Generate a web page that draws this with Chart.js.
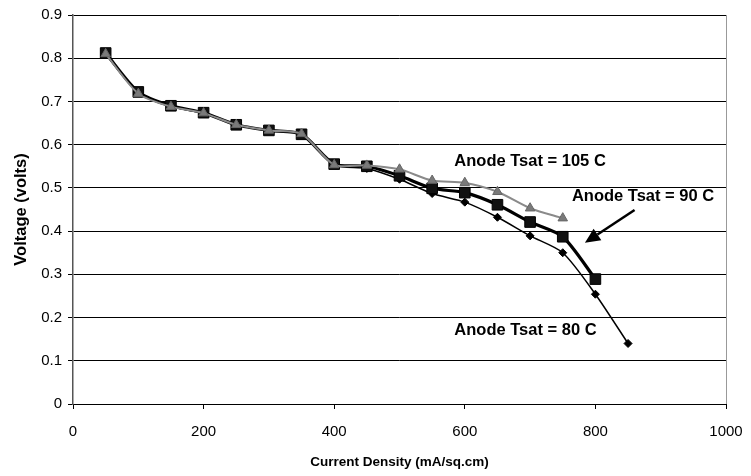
<!DOCTYPE html>
<html>
<head>
<meta charset="utf-8">
<script src="https://cdn.jsdelivr.net/npm/chart.js@4/dist/chart.umd.min.js"></script>
<style>
  html, body { margin: 0; padding: 0; background: #fff; }
  #wrap { width: 751px; height: 476px; }
</style>
</head>
<body>
<div id="wrap"><canvas id="c" width="751" height="476"></canvas></div>
<script>
// Current density (mA/sq.cm)
const current80 = [50, 100, 150, 200, 250, 300, 350, 400, 450, 500, 550, 600, 650, 700, 750, 800, 850];
const current90 = [50, 100, 150, 200, 250, 300, 350, 400, 450, 500, 550, 600, 650, 700, 750, 800];
const current105 = [50, 100, 150, 200, 250, 300, 350, 400, 450, 500, 550, 600, 650, 700, 750];
// Voltage (volts)
const voltage80 = [0.81, 0.72, 0.688, 0.673, 0.646, 0.632, 0.623, 0.553, 0.545, 0.52, 0.487, 0.467, 0.432, 0.389, 0.35, 0.254, 0.14];
const voltage90 = [0.812, 0.722, 0.69, 0.674, 0.646, 0.633, 0.624, 0.555, 0.55, 0.528, 0.499, 0.489, 0.461, 0.421, 0.387, 0.289];
const voltage105 = [0.81, 0.718, 0.688, 0.673, 0.646, 0.633, 0.625, 0.553, 0.552, 0.543, 0.517, 0.512, 0.491, 0.453, 0.43];
const seriesNames = ['Anode Tsat = 80 C', 'Anode Tsat = 90 C', 'Anode Tsat = 105 C'];
const xTicks = [0, 200, 400, 600, 800, 1000];
const yTicks = [0, 0.1, 0.2, 0.3, 0.4, 0.5, 0.6, 0.7, 0.8, 0.9];

// Annotation anchors (data coordinates)
const labelAt = [
  { text: seriesNames[2], x: 584, y: 0.562 },
  { text: seriesNames[1], x: 764, y: 0.480 },
  { text: seriesNames[0], x: 584, y: 0.171 }
];
const arrowFrom = { x: 860, y: 0.449 };
const arrowTo = { x: 784, y: 0.373 };

const pts = (xs, ys) => xs.map((x, i) => ({ x: x, y: ys[i] }));

const annotate = {
  id: 'annotate',
  afterDatasetsDraw(chart) {
    const ctx = chart.ctx, xs = chart.scales.x, ys = chart.scales.y;
    ctx.save();
    ctx.fillStyle = '#000';
    ctx.font = 'bold 16.5px "Liberation Sans", Arial, sans-serif';
    ctx.textAlign = 'left';
    ctx.textBaseline = 'middle';
    labelAt.forEach(l => ctx.fillText(l.text, xs.getPixelForValue(l.x), ys.getPixelForValue(l.y)));
    const x1 = xs.getPixelForValue(arrowFrom.x), y1 = ys.getPixelForValue(arrowFrom.y);
    const x2 = xs.getPixelForValue(arrowTo.x), y2 = ys.getPixelForValue(arrowTo.y);
    const ang = Math.atan2(y2 - y1, x2 - x1);
    const hl = 15, hw = 7;
    const bx = x2 - hl * Math.cos(ang), by = y2 - hl * Math.sin(ang);
    ctx.strokeStyle = '#000';
    ctx.lineWidth = 2.5;
    ctx.beginPath(); ctx.moveTo(x1, y1); ctx.lineTo(bx, by); ctx.stroke();
    ctx.beginPath();
    ctx.moveTo(x2, y2);
    ctx.lineTo(bx + hw * Math.sin(ang), by - hw * Math.cos(ang));
    ctx.lineTo(bx - hw * Math.sin(ang), by + hw * Math.cos(ang));
    ctx.closePath(); ctx.fill();
    ctx.restore();
  }
};

Chart.defaults.font.family = '"Liberation Sans", Arial, sans-serif';
Chart.defaults.color = '#000';

new Chart(document.getElementById('c'), {
  type: 'line',
  data: {
    datasets: [
      { label: seriesNames[0], data: pts(current80, voltage80), borderColor: '#000', backgroundColor: '#000',
        borderWidth: 1.5, pointStyle: 'rectRot', pointRadius: 4, pointBorderWidth: 1, tension: 0.25, order: 3 },
      { label: seriesNames[1], data: pts(current90, voltage90), borderColor: '#000', backgroundColor: '#111',
        borderWidth: 3.2, pointStyle: 'rect', pointRadius: 7.5, pointBorderWidth: 1, tension: 0.25, order: 2 },
      { label: seriesNames[2], data: pts(current105, voltage105), borderColor: '#8a8a8a', backgroundColor: '#7a7a7a',
        pointBorderColor: '#666', borderWidth: 2, pointStyle: 'triangle', pointRadius: 5.5, pointBorderWidth: 1, tension: 0.25, order: 1 }
    ]
  },
  plugins: [annotate],
  options: {
    responsive: false,
    animation: false,
    layout: { padding: { left: 12, right: 25, top: 15, bottom: 6 } },
    plugins: { legend: { display: false }, tooltip: { enabled: false } },
    scales: {
      x: {
        type: 'linear', min: 0, max: 1000,
        afterBuildTicks: s => { s.ticks = xTicks.map(v => ({ value: v })); },
        afterFit: s => { s.height = 66; s.paddingLeft = 0; s.paddingRight = 0; },
        ticks: { font: { size: 15 }, padding: 14, maxRotation: 0, callback: v => String(v) },
        grid: {
          drawOnChartArea: true, tickLength: 5, tickColor: '#000',
          color: c => (c.tick && c.tick.value === 1000) ? '#999' : 'rgba(0,0,0,0)'
        },
        border: { color: '#000', width: 1 },
        title: { display: true, text: 'Current Density (mA/sq.cm)', font: { size: 13.5, weight: 'bold' }, padding: 0 }
      },
      y: {
        type: 'linear', min: 0, max: 0.9,
        afterBuildTicks: s => { s.ticks = yTicks.map(v => ({ value: v })); },
        afterFit: s => { s.width = 61; },
        ticks: { font: { size: 15 }, padding: 6, callback: v => String(Math.round(v * 10) / 10) },
        grid: { color: '#000', tickColor: '#000', tickLength: 5, lineWidth: 1 },
        border: { color: '#555', width: 1.5 },
        title: { display: true, text: 'Voltage (volts)', font: { size: 16.5, weight: 'bold' }, padding: 0 }
      }
    }
  }
});
</script>
</body>
</html>
